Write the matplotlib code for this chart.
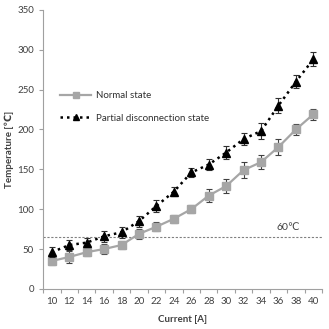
import numpy as np
import matplotlib
matplotlib.use("Agg")
import matplotlib.pyplot as plt
from matplotlib.lines import Line2D

plt.rcParams['font.family'] = ['Lato', 'DejaVu Sans']

# data
current = [10, 12, 14, 16, 18, 20, 22, 24, 26, 28, 30, 32, 34, 36, 38, 40]
normal = [35, 40, 46, 50, 55, 69, 78, 88, 100, 117, 129, 149, 159, 178, 200, 219]
normal_err = [5, 7, 5, 6, 5, 6, 6, 5, 5, 8, 9, 10, 9, 10, 7, 7]
partial = [46, 55, 58, 66, 71, 85, 104, 122, 146, 156, 171, 188, 198, 230, 260, 288]
partial_err = [6, 6, 6, 7, 7, 7, 7, 6, 6, 7, 8, 8, 10, 9, 8, 9]
threshold = 65
threshold_label = "60℃"

fig = plt.figure(figsize=(3.29, 3.29), dpi=100)
ax = fig.add_axes([0.131, 0.122, 0.848, 0.848])

x = np.arange(len(current)) + 0.5

# threshold line
ax.axhline(threshold, color='#808080', linestyle=(0, (2, 1.5)), linewidth=0.8, zorder=1)
ax.text(13.4, threshold + 9, threshold_label, fontsize=7.5, color='#404040')

# normal state
ax.errorbar(x, normal, yerr=normal_err, color='#a6a6a6', linewidth=1.6,
            marker='s', markersize=5.5, markerfacecolor='#a6a6a6', markeredgecolor='#a6a6a6',
            ecolor='#404040', elinewidth=0.8, capsize=2.5, capthick=0.8, zorder=3)

# partial disconnection state
ax.errorbar(x, partial, yerr=partial_err, color='black', linewidth=1.8,
            linestyle=(0, (1, 1.6)), marker='^', markersize=5.5,
            markerfacecolor='black', markeredgecolor='black',
            ecolor='#303030', elinewidth=0.8, capsize=2.5, capthick=0.8, zorder=4)

ax.set_xlim(0, len(current))
ax.set_ylim(0, 350)

# category axis: tick marks between categories, labels at centres
ax.set_xticks(np.arange(len(current) + 1))
ax.set_xticklabels([])
ax.set_xticks(x, minor=True)
ax.set_xticklabels([str(c) for c in current], minor=True)
ax.tick_params(axis='x', which='major', length=3, color='#a0a0a0', width=0.8)
ax.tick_params(axis='x', which='minor', length=0, labelsize=7, labelcolor='#404040', pad=6)

ax.set_yticks(np.arange(0, 351, 50))
ax.tick_params(axis='y', length=3, color='#a0a0a0', width=0.8, labelsize=7, labelcolor='#404040')

for s in ['top', 'right']:
    ax.spines[s].set_visible(False)
for s in ['left', 'bottom']:
    ax.spines[s].set_color('#a0a0a0')
    ax.spines[s].set_linewidth(0.8)

ax.set_xlabel('Current [A]', fontsize=7, fontweight='bold', color='#404040', labelpad=6)
ax.set_ylabel('Temperature [℃]', fontsize=7, fontweight='bold', color='#404040', labelpad=2)

# legend without error bars in the handles
handles = [
    Line2D([], [], color='#a6a6a6', linewidth=1.6, marker='s', markersize=5,
           markerfacecolor='#a6a6a6', markeredgecolor='#a6a6a6'),
    Line2D([], [], color='black', linewidth=1.8, linestyle=(0, (1, 1.6)), marker='^',
           markersize=5, markerfacecolor='black', markeredgecolor='black'),
]
ax.legend(handles, ['Normal state', 'Partial disconnection state'],
          loc='upper left', bbox_to_anchor=(0.03, 0.74), frameon=False,
          fontsize=7, handlelength=3.2, labelspacing=1.4, handletextpad=0.5,
          labelcolor='#303030')

fig.savefig('out.png', dpi=100)
